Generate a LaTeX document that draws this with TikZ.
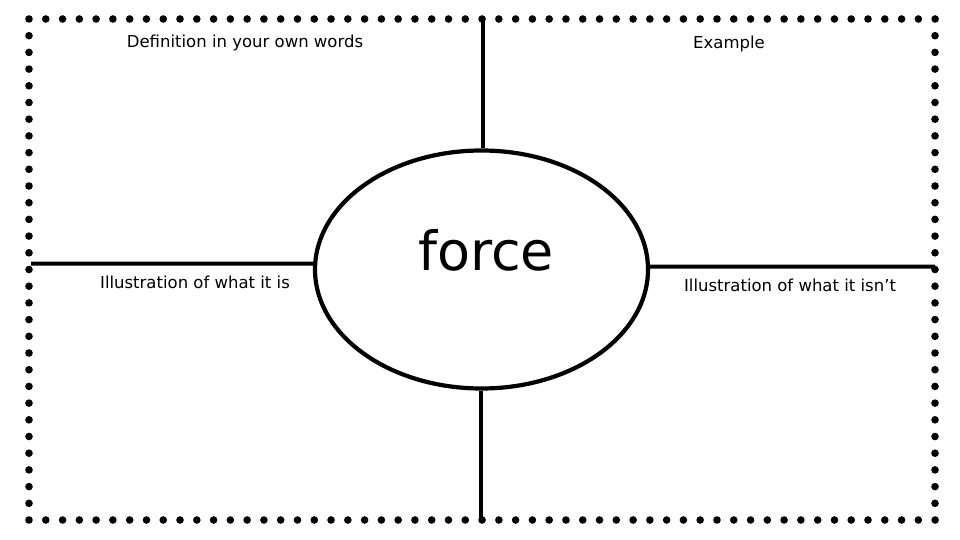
\documentclass[tikz,border=0pt]{standalone}
\usepackage{fontspec}
\setmainfont{DejaVu Sans}
\usetikzlibrary{shapes.geometric}
\begin{document}
\begin{tikzpicture}[x=1pt,y=-1pt,
  bar/.style={line width=4pt},
  dotmark/.style={fill=black},
  lbl/.style={font=\fontsize{16.5}{18}\selectfont, inner sep=0pt}]
\useasboundingbox (0,0) rectangle (960,540);
\fill[white] (0,0) rectangle (960,540);
% dotted border
\foreach \i in {0,...,54} {\fill[dotmark] ({29+\i*16.78},19) circle (3.8);
                           \fill[dotmark] ({29+\i*16.78},520) circle (3.8);}
\foreach \j in {1,...,29} {\fill[dotmark] (29,{19+\j*16.7}) circle (3.8);
                           \fill[dotmark] (935,{19+\j*16.7}) circle (3.8);}
% central ellipse
\node[ellipse, draw, line width=4.2pt, minimum width=333, minimum height=238, inner sep=0pt] (c) at (481.5,269.5) {};
\node[font=\fontsize{54}{58}\selectfont, inner sep=0pt] (word) at (486,250) {force};
% connector ends
\coordinate (T) at (483,19);
\coordinate (B) at (481,520);
\coordinate (L) at (31,263.7);
\coordinate (R) at (935,266.6);
\draw[bar] (T) -- (c.north -| T);
\draw[bar] (c.south -| B) -- (B);
\draw[bar] (L) -- (c.178);
\draw[bar] (c.1) -- (R);
% labels
\node[lbl] (def) at (245,43) {Definition in your own words};
\node[lbl] (ex) at (729,44) {Example};
\node[lbl] (is) at (195,282) {Illustration of what it is};
\node[lbl] (isnt) at (790,285) {Illustration of what it isn’t};
\end{tikzpicture}
\end{document}
